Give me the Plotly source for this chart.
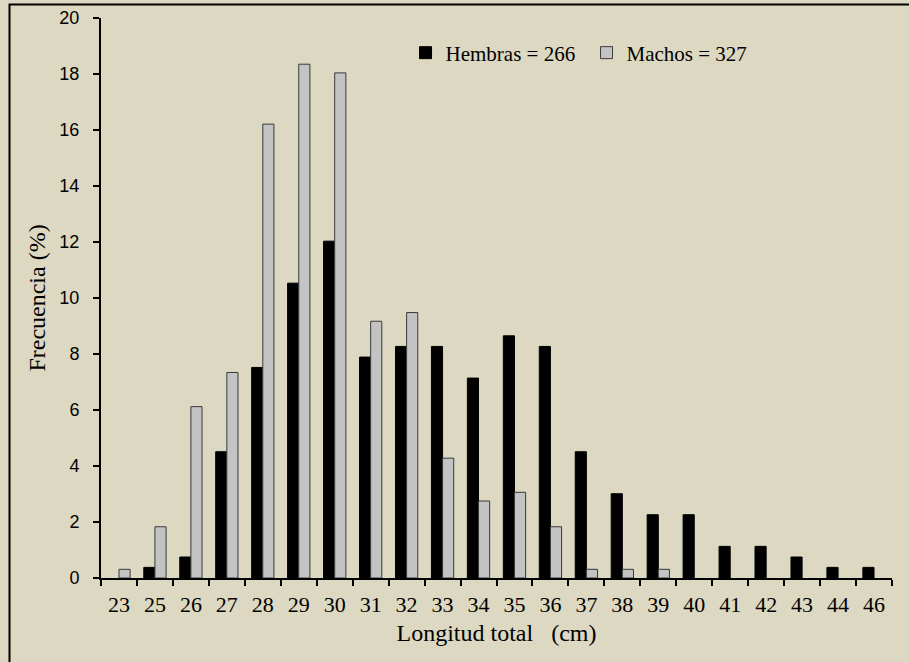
import plotly.graph_objects as go

categories = ["23", "25", "26", "27", "28", "29", "30", "31", "32", "33", "34",
              "35", "36", "37", "38", "39", "40", "41", "42", "43", "44", "46"]
hembras = [0, 0.38, 0.75, 4.51, 7.52, 10.53, 12.03, 7.89, 8.27, 8.27, 7.14,
           8.65, 8.27, 4.51, 3.01, 2.26, 2.26, 1.13, 1.13, 0.75, 0.38, 0.38]
machos = [0.31, 1.83, 6.12, 7.34, 16.21, 18.35, 18.04, 9.17, 9.48, 4.28, 2.75,
          3.06, 1.83, 0.31, 0.31, 0.31, 0, 0, 0, 0, 0, 0]
y_ticks = list(range(0, 21, 2))

BG = "#DCD8C1"
SERIF = "Liberation Serif, Times New Roman, serif"
SANS = "Liberation Sans, Arial, sans-serif"


def no_zero(vals):
    return [v if v else None for v in vals]


fig = go.Figure()
fig.add_trace(go.Bar(x=categories, y=no_zero(hembras), name="Hembras = 266",
                     marker=dict(color="#000000", line=dict(color="#000000", width=1))))
fig.add_trace(go.Bar(x=categories, y=no_zero(machos), name="Machos = 327",
                     marker=dict(color="#C3C3C3", line=dict(color="#3a3a3a", width=1))))

fig.update_layout(
    width=909, height=662,
    paper_bgcolor=BG, plot_bgcolor=BG,
    margin=dict(l=101, r=17, t=18, b=84),
    barmode="group", bargap=0.38, bargroupgap=0,
    showlegend=True,
    legend=dict(orientation="h", x=0.385, y=0.9375, xanchor="left", yanchor="middle",
                bgcolor="rgba(0,0,0,0)", font=dict(family=SERIF, size=21, color="#000"),
                entrywidth=136, entrywidthmode="pixels", traceorder="normal"),
    font=dict(family=SERIF, color="#000"),
)
fig.update_xaxes(
    type="category", tickson="boundaries", ticks="outside", ticklen=6, tickwidth=2,
    tickcolor="#000", showline=True, linecolor="#000", linewidth=2,
    showgrid=False, zeroline=False, ticklabelstandoff=6, automargin=False,
    tickfont=dict(family=SERIF, size=22, color="#000"),
    title=dict(text="Longitud total   (cm)", font=dict(family=SERIF, size=24, color="#000"), standoff=8),
)
fig.update_yaxes(
    range=[0, 20], tickvals=y_ticks, ticks="outside", ticklen=6, tickwidth=2,
    tickcolor="#000", showline=True, linecolor="#000", linewidth=2,
    showgrid=False, zeroline=False, ticklabelstandoff=10, automargin=False,
    tickfont=dict(family=SANS, size=18, color="#000"),
    title=dict(text="Frecuencia (%)", font=dict(family=SERIF, size=24, color="#000"), standoff=7),
)
# outer frame (extends beyond right and bottom edges as in the reference)
fig.add_shape(type="rect", xref="paper", yref="paper",
              x0=(9.5 - 101) / 791, x1=1.2, y0=-0.3, y1=(578 - 4.5) / 560,
              line=dict(color="#000", width=2), fillcolor="rgba(0,0,0,0)", layer="below")

fig.write_html("out.html", config={"displayModeBar": False},
               post_script="document.body.style.margin='0';document.body.style.overflow='hidden';")
